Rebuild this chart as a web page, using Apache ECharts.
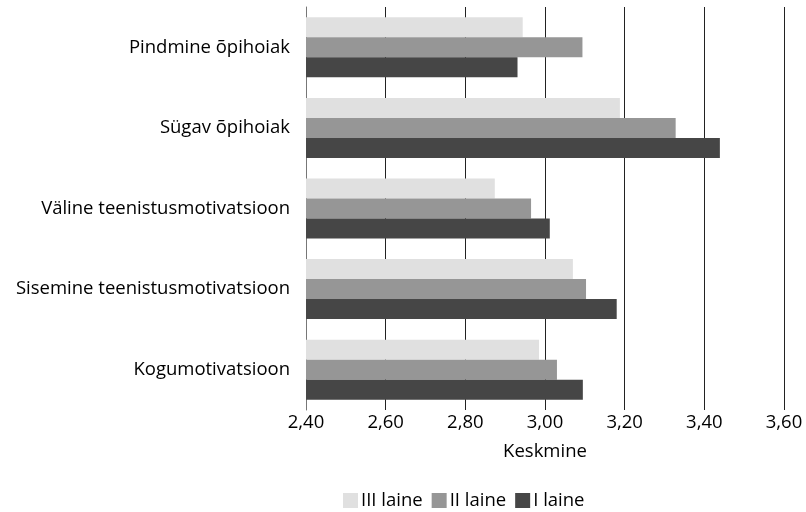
<!DOCTYPE html>
<html>
<head>
<meta charset="utf-8">
<script src="https://cdn.jsdelivr.net/npm/echarts@6/dist/echarts.min.js"></script>
<style>html,body{margin:0;padding:0;background:#fff;}#c{width:806px;height:512px;}</style>
</head>
<body>
<div id="c"></div>
<script>
var categories = ["Pindmine õpihoiak", "Sügav õpihoiak", "Väline teenistusmotivatsioon", "Sisemine teenistusmotivatsioon", "Kogumotivatsioon"];
var seriesNames = ["III laine", "II laine", "I laine"];
var laine3 = [2.944, 3.188, 2.874, 3.070, 2.985];
var laine2 = [3.094, 3.328, 2.965, 3.103, 3.030];
var laine1 = [2.931, 3.439, 3.012, 3.180, 3.095];
var colors = ["#e0e0e0", "#969696", "#464646"];
var FONT = "Open Sans";
var FS = 18.5;

var chart = echarts.init(document.getElementById('c'));
var vals = [laine3, laine2, laine1];
chart.setOption({
  animation: false,
  textStyle: {fontFamily: FONT, color: '#000'},
  grid: {left: 306, right: 22, top: 7, bottom: 102, containLabel: false},
  legend: {
    top: 486, left: 338, itemWidth: 15, itemHeight: 15, itemGap: 9,
    icon: 'rect',
    textStyle: {fontFamily: FONT, fontSize: FS, color: '#000', padding: [0,0,0,-2]},
    data: seriesNames
  },
  xAxis: {
    type: 'value', min: 2.4, max: 3.6, interval: 0.2,
    name: 'Keskmine', nameLocation: 'middle', nameGap: 32,
    nameTextStyle: {fontFamily: FONT, fontSize: FS, color: '#000'},
    axisLine: {show: false},
    axisTick: {show: false},
    axisLabel: {fontFamily: FONT, fontSize: FS, color: '#000', margin: 3,
      formatter: function(v){ return v.toFixed(2).replace('.', ','); }},
    splitLine: {show: true, lineStyle: {color: '#222', width: 1}}
  },
  yAxis: {
    type: 'category', data: categories, inverse: true,
    axisLine: {show: true, lineStyle: {color: '#777'}},
    axisTick: {show: false},
    axisLabel: {fontFamily: FONT, fontSize: FS, color: '#000', margin: 16}
  },
  series: seriesNames.map(function(n, i){
    return {
      name: n, type: 'bar', data: vals[i],
      barGap: '0%', barWidth: 20,
      itemStyle: {color: colors[i]}
    };
  })
});
</script>
</body>
</html>
